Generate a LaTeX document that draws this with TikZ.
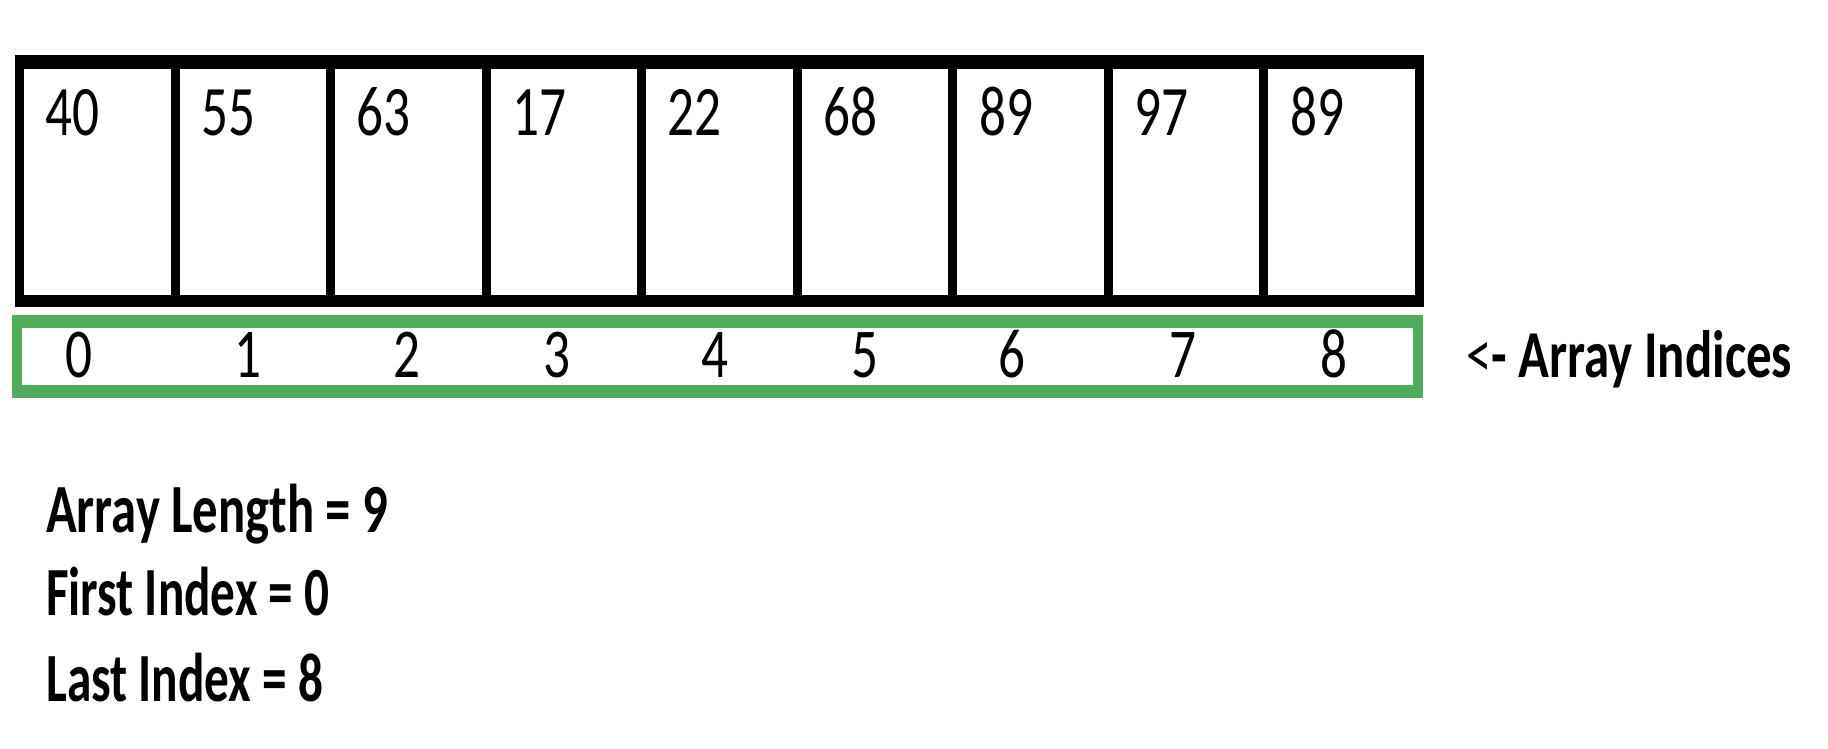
\documentclass[tikz,border=0pt]{standalone}
\usepackage{fontspec}
\setmainfont{Carlito}
\usepackage{graphicx}
\definecolor{idxgreen}{RGB}{78,172,91}
\tikzset{
  vline/.style={line width=9pt},
  hline/.style={line width=13pt},
  gvline/.style={draw=idxgreen, line width=10pt},
  ghline/.style={draw=idxgreen, line width=13pt},
  valtext/.style={anchor=base west, inner sep=0pt, font=\fontsize{71}{80}\selectfont},
  idxtext/.style={anchor=base, inner sep=0pt, font=\fontsize{70}{80}\selectfont},
  lbltext/.style={anchor=base west, inner sep=0pt, font=\fontsize{69}{80}\selectfont\bfseries},
}
\begin{document}
\begin{tikzpicture}[x=1pt,y=-1pt]
\useasboundingbox (0,0) rectangle (1828,748);
\fill[white] (0,0) rectangle (1828,748);
% black array frame
\draw[hline, line width=14pt] (15,62) -- (1424,62);
\draw[hline, line width=12pt] (15,301) -- (1424,301);
\foreach \i in {0,...,9} {
  \draw[vline] ({19.5+155.556*\i},55) -- ({19.5+155.556*\i},307);
}
% green index frame
\draw[ghline] (12,321.5) -- (1423,321.5);
\draw[ghline] (12,391.5) -- (1423,391.5);
\draw[gvline] (17,315) -- (17,398);
\draw[gvline] (1418,315) -- (1418,398);
% values
\foreach \v [count=\i from 0] in {40,55,63,17,22,68,89,97,89} {
  \node[valtext] (v\i) at ({19.5+155.556*\i+26},135) {\scalebox{0.75}[1]{\v}};
}
% indices
\foreach \x [count=\i from 0] in {79,248,407,557,715,865,1012,1183,1334} {
  \node[idxtext] (i\i) at (\x,377) {\scalebox{0.76}[1]{\i}};
}
% labels
\node[lbltext, font=\fontsize{67}{80}\selectfont\bfseries] (ind) at (1466,377) {\resizebox{326pt}{\height}{{\mdseries<}- Array Indices}};
\node[lbltext] (len) at (46,532) {\resizebox{342pt}{\height}{Array Length = 9}};
\node[lbltext] (first) at (46,615) {\resizebox{283pt}{\height}{First Index = 0}};
\node[lbltext] (last) at (46,701) {\resizebox{277pt}{\height}{Last Index = 8}};
\end{tikzpicture}
\end{document}
